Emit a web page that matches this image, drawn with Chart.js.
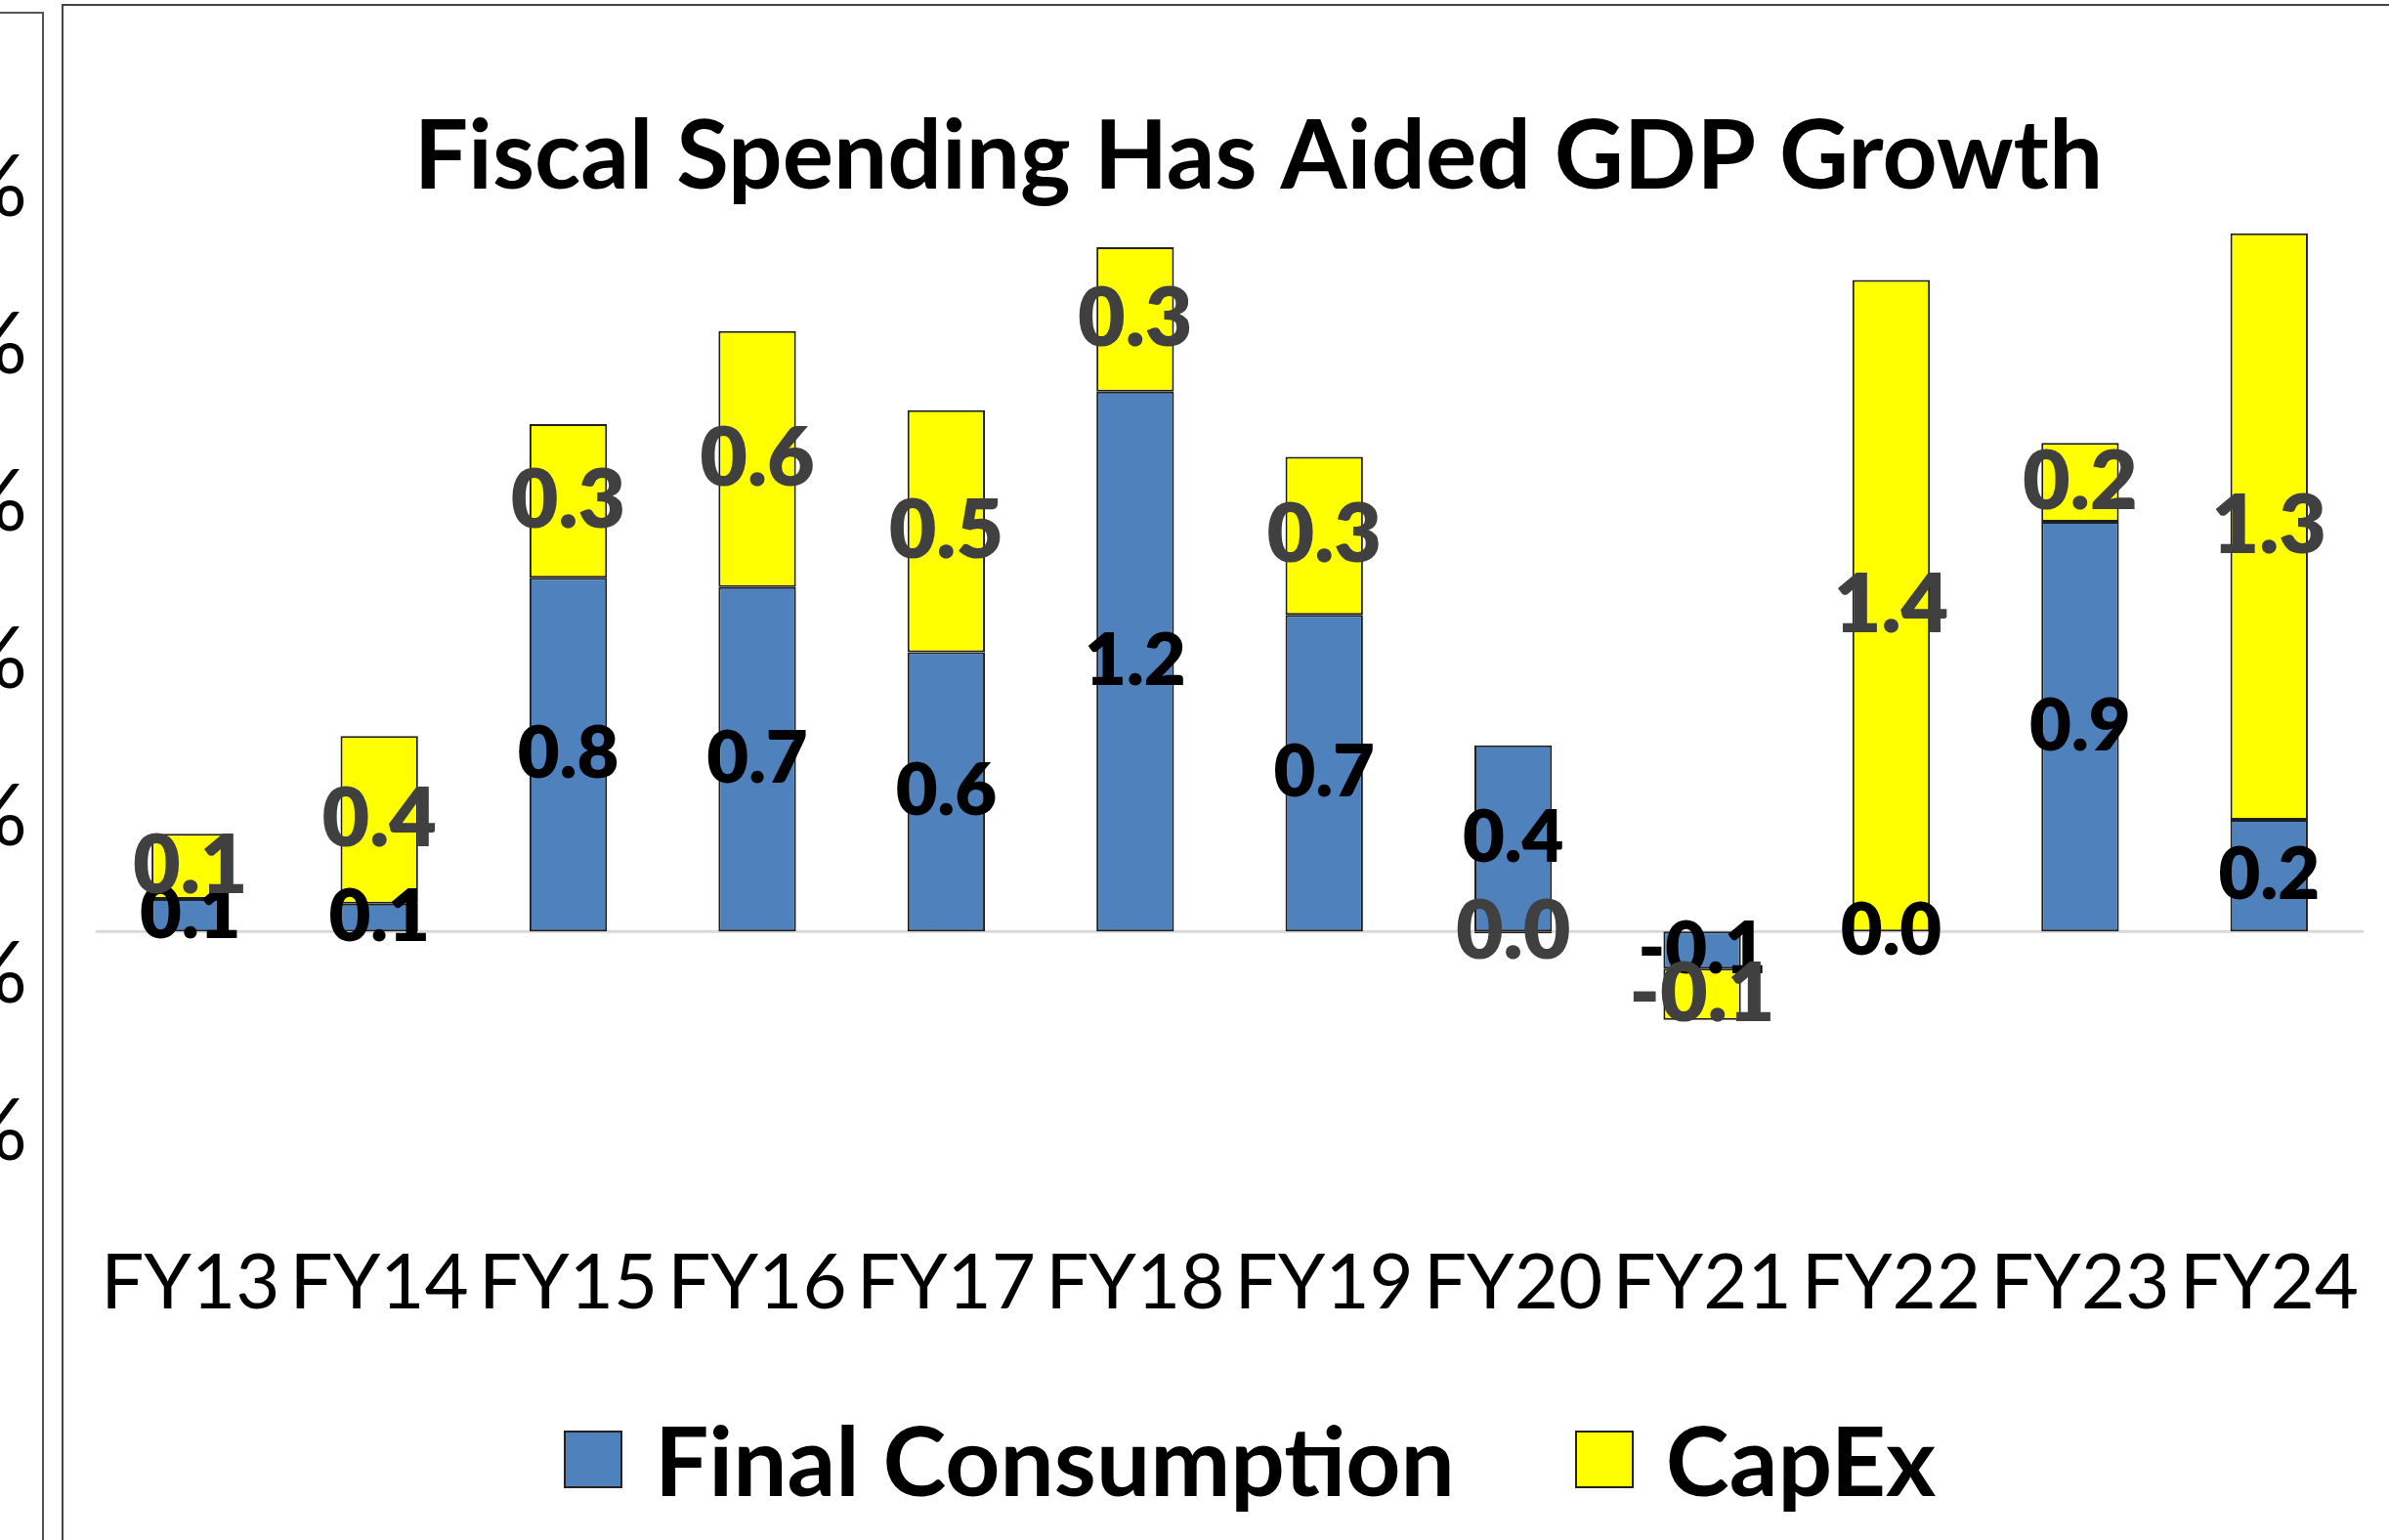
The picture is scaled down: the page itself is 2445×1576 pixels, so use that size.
<!DOCTYPE html>
<html>
<head>
<meta charset="utf-8">
<script src="https://cdn.jsdelivr.net/npm/chart.js@4.4.1/dist/chart.umd.min.js"></script>
<style>
  html, body { margin: 0; padding: 0; background: #fff; }
  body { width: 2445px; height: 1576px; position: relative; overflow: hidden; font-family: Lato, "Open Sans", sans-serif; }
  #sidePanel { position: absolute; left: 0; top: 12px; width: 43px; height: 1700px; border-top: 2px solid #555; border-right: 2px solid #555; }
  .sideTick { position: absolute; left: -80px; width: 108px; text-align: right; font-size: 88px; line-height: 1; color: #000; }
  #frame { position: absolute; left: 63px; top: 4px; width: 2500px; height: 1700px; border: 2px solid #444; }
  #chartWrap { position: absolute; left: 66px; top: 0; width: 2444px; height: 1576px; }
  #legend { position: absolute; left: 577px; top: 1444px; display: flex; align-items: center; }
  .legItem { display: flex; align-items: center; margin-right: 123px; }
  .legBox { width: 56px; height: 55px; border: 2px solid #222; margin-right: 33px; }
  .legText { font-weight: 700; font-size: 98px; line-height: 1; color: #000; }
</style>
</head>
<body>
<div id="sidePanel"></div>
<div id="frame"></div>
<div id="chartWrap"><canvas id="fiscalChart"></canvas></div>
<div id="legend"></div>

<script>
/* ===== DATA ===== */

const categories = ['FY13', 'FY14', 'FY15', 'FY16', 'FY17', 'FY18', 'FY19', 'FY20', 'FY21', 'FY22', 'FY23', 'FY24'];

// contribution to GDP growth, percentage points
const finalConsumption = [0.07, 0.06, 0.76, 0.74, 0.60, 1.16, 0.68, 0.40, -0.08, 0.00, 0.88, 0.24];
const capex = [0.14, 0.36, 0.33, 0.55, 0.52, 0.31, 0.34, -0.004, -0.11, 1.40, 0.17, 1.26];

const seriesNames = ['Final Consumption', 'CapEx'];

// tick labels of the neighbouring chart, only the % sign is in view
const sideTicks = ['%', '%', '%', '%', '%', '%', '%'];

/* ===== HELPERS ===== */

const FONT_FAMILY = 'Lato, "Open Sans", sans-serif';

function fmt(v) {
  const s = v.toFixed(1);
  return s === '-0.0' ? '0.0' : s;
}

// light grey line at zero across the plot
const zeroLinePlugin = {
  id: 'zeroLine',
  beforeDatasetsDraw(chart) {
    const { ctx, chartArea, scales: { y } } = chart;
    const yZero = y.getPixelForValue(0);
    ctx.save();
    ctx.beginPath();
    ctx.moveTo(chartArea.left, yZero);
    ctx.lineTo(chartArea.right, yZero);
    ctx.strokeStyle = '#d9d9d9';
    ctx.lineWidth = 3;
    ctx.stroke();
    ctx.restore();
  }
};

// value labels in the middle of each segment
const barLabelPlugin = {
  id: 'barLabels',
  afterDatasetsDraw(chart) {
    const { ctx } = chart;
    chart.data.datasets.forEach((ds, i) => {
      const meta = chart.getDatasetMeta(i);
      ctx.save();
      ctx.font = `800 ${ds.labelSize}px ${FONT_FAMILY}`;
      ctx.fillStyle = ds.labelColor;
      ctx.textAlign = 'center';
      ctx.textBaseline = 'middle';
      meta.data.forEach((bar, j) => {
        const yMid = (bar.y + bar.base) / 2;
        ctx.fillText(fmt(ds.data[j]), bar.x, yMid);
      });
      ctx.restore();
    });
  }
};

// invisible side axes, only there to hold the plot margins
function spacerAxis(position, width, extra) {
  return Object.assign({
    position,
    display: true,
    ticks: { display: false },
    grid: { display: false, drawTicks: false },
    border: { display: false },
    afterFit(scale) { scale.width = width; }
  }, extra);
}

/* ===== SIDE FRAGMENT ===== */

(function() {
  sideTicks.forEach((t, i) => {
    const el = document.createElement('div');
    el.className = 'sideTick';
    el.textContent = t;
    el.style.top = (187 - 44 + i * 161) + 'px';
    document.body.appendChild(el);
  });
})();

/* ===== MAIN CHART ===== */

(function() {
  const ctx = document.getElementById('fiscalChart');
  if (!ctx) return;

  const chart = new Chart(ctx, {
    type: 'bar',
    data: {
      labels: categories,
      datasets: [
        {
          label: seriesNames[0],
          data: finalConsumption,
          backgroundColor: '#4f81bd',
          borderColor: '#1f1f1f',
          borderWidth: 2,
          borderSkipped: false,
          barPercentage: 0.41,
          categoryPercentage: 1,
          labelColor: '#000000',
          labelSize: 74,
        },
        {
          label: seriesNames[1],
          data: capex,
          backgroundColor: '#ffff00',
          borderColor: '#1f1f1f',
          borderWidth: 2,
          borderSkipped: false,
          barPercentage: 0.41,
          categoryPercentage: 1,
          labelColor: '#404040',
          labelSize: 84,
        },
      ]
    },
    options: {
      responsive: true,
      maintainAspectRatio: false,
      animation: false,
      layout: { padding: { left: 0, right: 0, top: 0, bottom: 187 } },
      plugins: {
        legend: { display: false },
        tooltip: { enabled: false },
        title: {
          display: true,
          text: 'Fiscal Spending Has Aided GDP Growth',
          color: '#000',
          font: { family: FONT_FAMILY, size: 98, weight: 'bold', lineHeight: 1 },
          padding: { top: 112, bottom: 5 },
        }
      },
      scales: {
        x: {
          stacked: true,
          grid: { display: false, drawTicks: false },
          border: { display: false },
          ticks: {
            font: { family: FONT_FAMILY, size: 78, lineHeight: 1 },
            color: '#000',
            padding: 36,
            maxRotation: 0,
            autoSkip: false,
          }
        },
        y: spacerAxis('left', 27, { stacked: true, min: -0.6, max: 1.55 }),
        yRight: spacerAxis('right', 91, { type: 'linear' }),
      }
    },
    plugins: [zeroLinePlugin, barLabelPlugin]
  });

  // legend built from the datasets
  const legend = document.getElementById('legend');
  chart.data.datasets.forEach(ds => {
    const item = document.createElement('div');
    item.className = 'legItem';
    const box = document.createElement('div');
    box.className = 'legBox';
    box.style.background = ds.backgroundColor;
    const txt = document.createElement('div');
    txt.className = 'legText';
    txt.textContent = ds.label;
    item.appendChild(box);
    item.appendChild(txt);
    legend.appendChild(item);
  });
})();
</script>
</body>
</html>
